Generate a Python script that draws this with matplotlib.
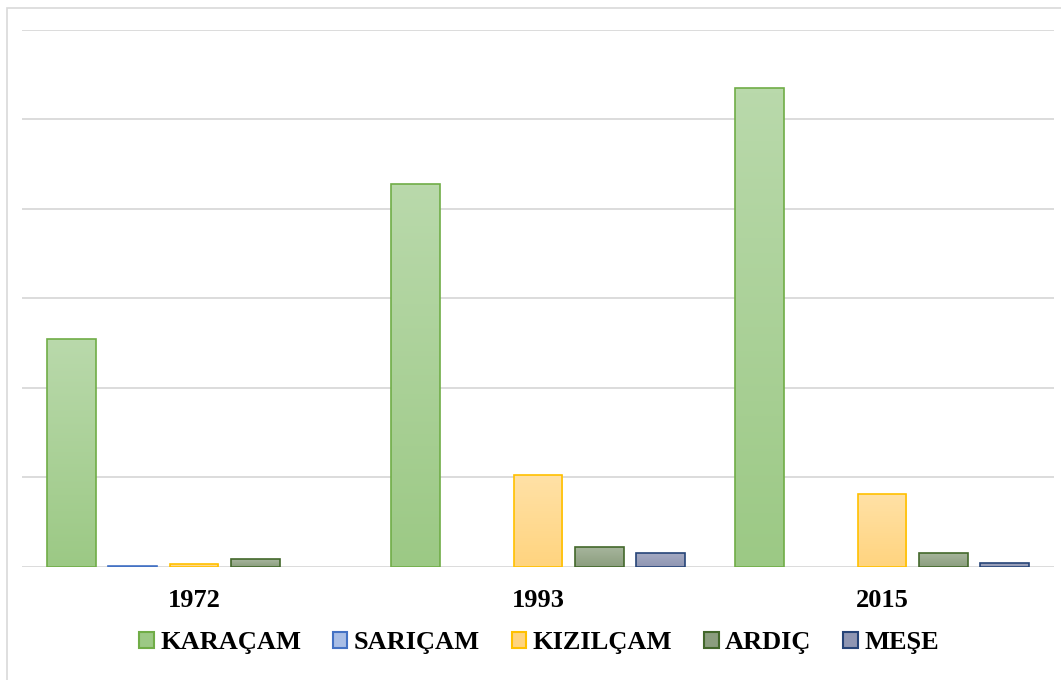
import matplotlib
matplotlib.use("Agg")
import matplotlib.pyplot as plt
import numpy as np
from matplotlib.colors import LinearSegmentedColormap
from matplotlib.patches import Rectangle, Patch

# data (no axis values shown, so units are relative)
years = ["1972", "1993", "2015"]
species = ["KARAÇAM", "SARIÇAM", "KIZILÇAM", "ARDIÇ", "MEŞE"]
karacam = [2550, 4280, 5350]
saricam = [8, 0, 0]
kizilcam = [35, 1025, 815]
ardic = [85, 225, 160]
mese = [0, 160, 50]
series = [karacam, saricam, kizilcam, ardic, mese]

# (top colour, bottom colour, edge colour)
styles = [
    ("#b9d9ab", "#9cc985", "#70ad47"),
    ("#c3d3ee", "#a9bee6", "#4472c4"),
    ("#ffe1a6", "#ffd47f", "#ffc000"),
    ("#a8b69e", "#8b9e7e", "#43682b"),
    ("#a6abc3", "#8f96b3", "#264478"),
]

fig = plt.figure(figsize=(10.61, 6.80), dpi=100)
W, H = 1061, 680

# outer chart border (only left/top are visible in the crop)
fig.patches.append(Rectangle((7 / W, -0.1), 1.2, 1 - 8 / H + 0.1,
                             transform=fig.transFigure, fill=False,
                             edgecolor="#d9d9d9", linewidth=1.2))

ax = fig.add_axes([22 / W, (H - 567) / H, (1054 - 22) / W, (567 - 29.5) / H])
ax.set_xlim(0, 3)
ax.set_ylim(0, 6000)
ax.set_yticks(np.arange(0, 6001, 1000))
ax.yaxis.grid(True, color="#d9d9d9", linewidth=1.3)
ax.set_axisbelow(True)
ax.tick_params(axis="y", left=False, labelleft=False)
for s in ax.spines.values():
    s.set_visible(False)

bar_w = 49 / 344.5
step = 61.5 / 344.5
for gi in range(len(years)):
    start = gi + 24.75 / 344.5
    for si, vals in enumerate(series):
        v = vals[gi]
        if v <= 0:
            continue
        top_c, bot_c, edge_c = styles[si]
        x0 = start + si * step
        cmap = LinearSegmentedColormap.from_list("g", [bot_c, top_c])
        grad = np.linspace(1, 0, 64).reshape(-1, 1)
        im = ax.imshow(grad, cmap=cmap, aspect="auto", extent=(x0, x0 + bar_w, 0, v),
                       origin="upper", zorder=2, interpolation="bilinear")
        rect = Rectangle((x0, 0), bar_w, v, facecolor="none", edgecolor=edge_c,
                         linewidth=1.2, zorder=3)
        ax.add_patch(rect)
        im.set_clip_path(rect)
ax.set_xlim(0, 3)
ax.set_ylim(0, 6000)

ax.set_xticks([0.5, 1.5, 2.5])
ax.set_xticklabels(years, fontfamily="Liberation Serif", fontweight="bold", fontsize=19)
ax.tick_params(axis="x", length=0, pad=16)

handles = [Patch(facecolor=styles[i][1], edgecolor=styles[i][2], linewidth=1.5)
           for i in range(len(species))]
fig.legend(handles, species, loc="center", bbox_to_anchor=(539 / W, 1 - 643 / H),
           ncol=5, frameon=False, handlelength=0.55, handleheight=0.55,
           handletextpad=0.25, columnspacing=1.2, borderpad=0,
           prop={"family": "Liberation Serif", "weight": "bold", "size": 19})

fig.savefig("out.png", dpi=100, facecolor="white")
